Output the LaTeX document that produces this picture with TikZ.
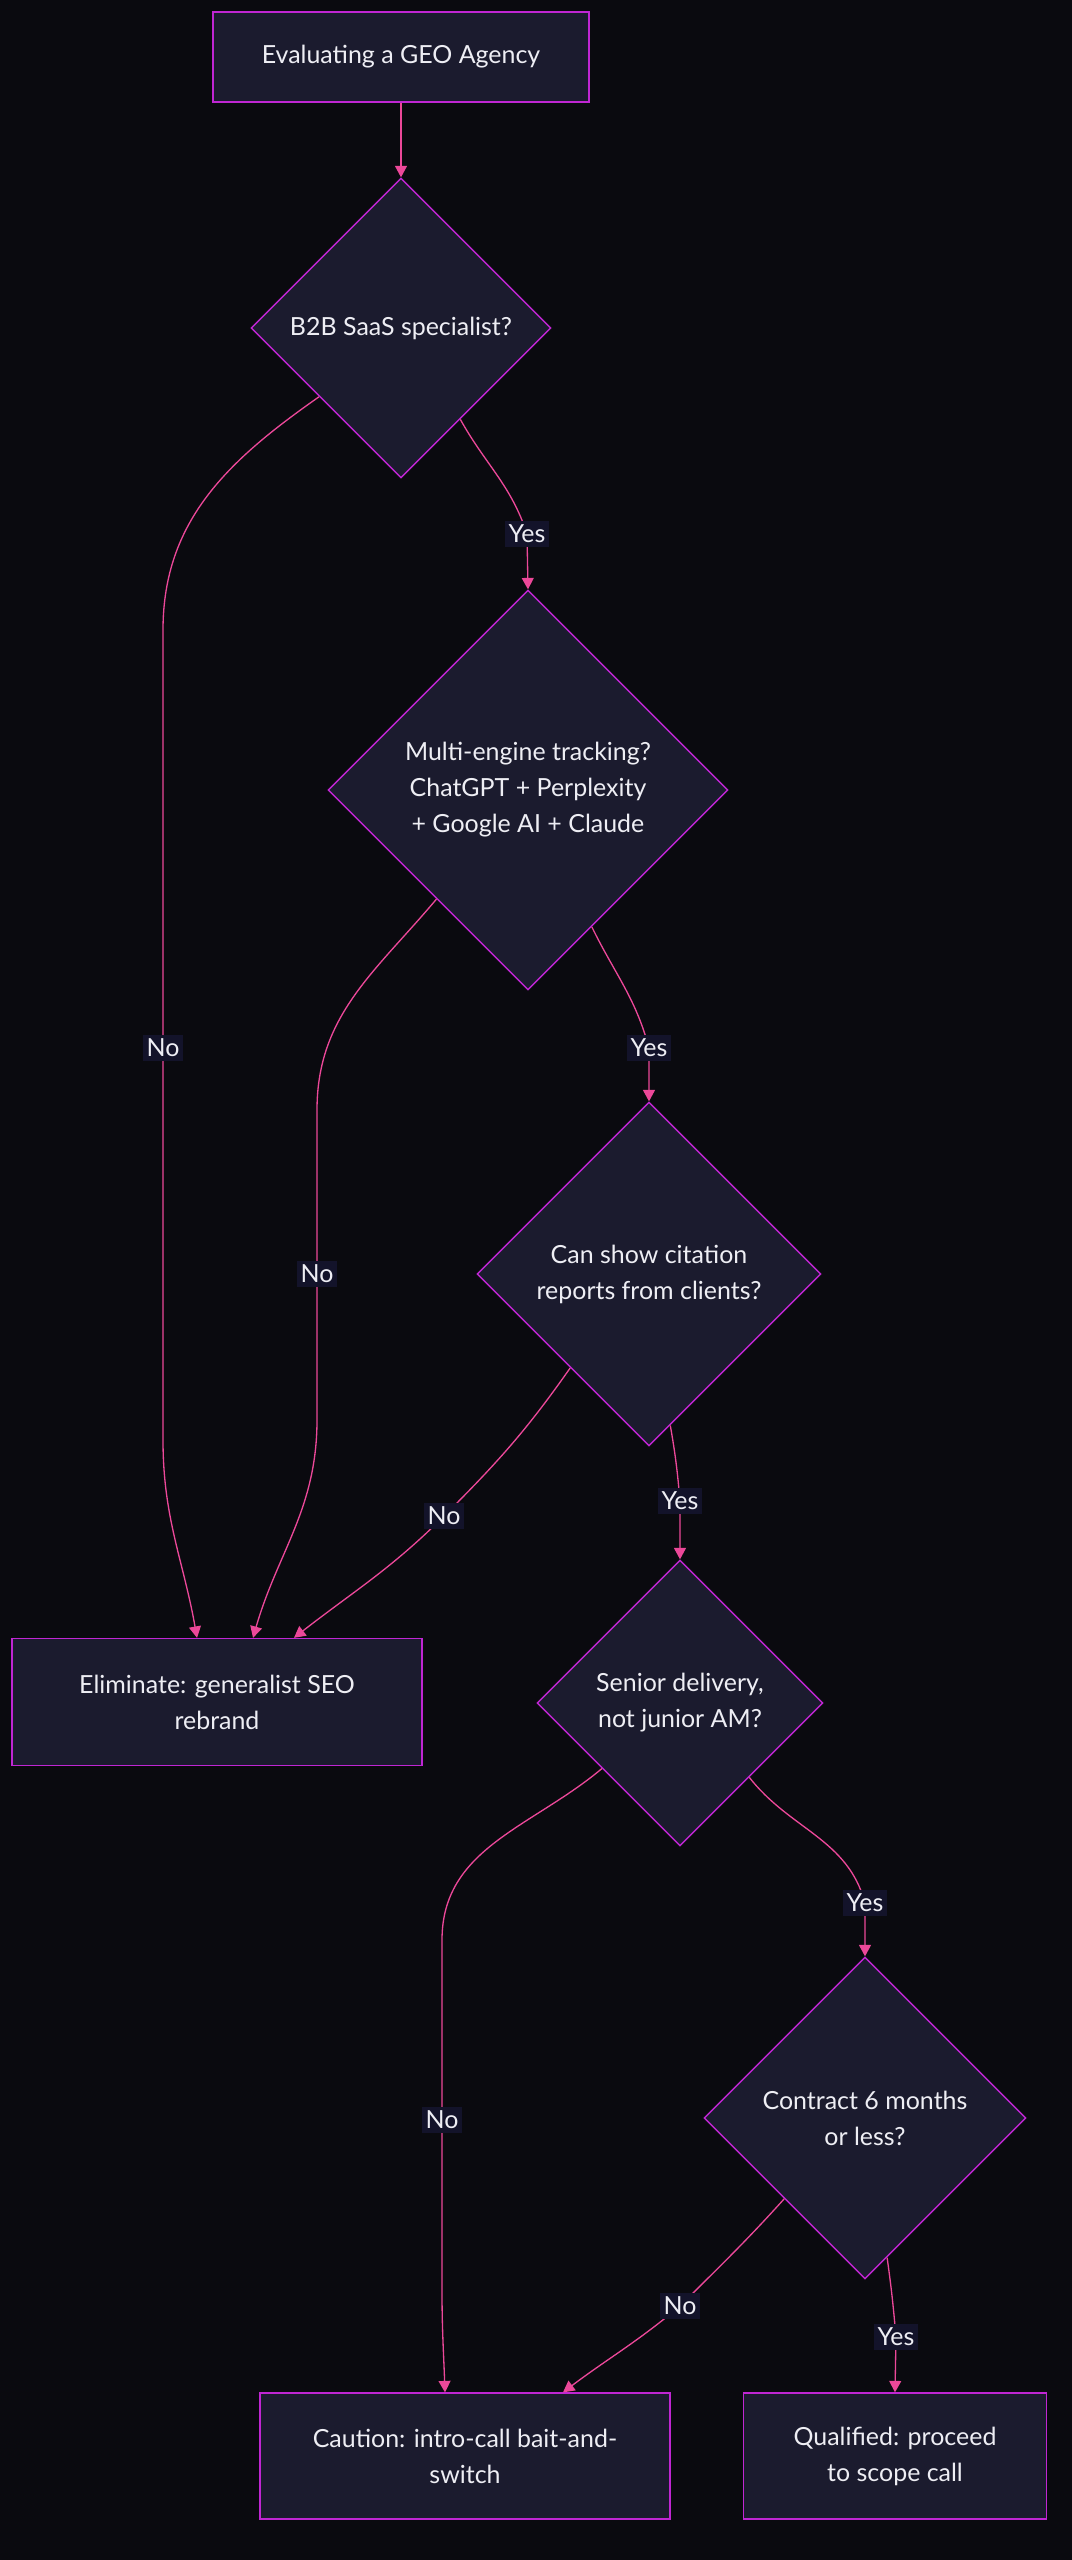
\documentclass[tikz,border=0pt]{standalone}
\usepackage{fontspec}
\setmainfont{Lato}
\usepackage{tikz}
\usetikzlibrary{shapes.geometric,arrows.meta,calc}
\usepackage{xcolor}
\definecolor{geobg}{HTML}{0A0A0F}
\definecolor{geofill}{HTML}{1B1B2E}
\definecolor{geoborder}{HTML}{C026D3}
\definecolor{geoedge}{HTML}{EC4899}
\definecolor{geotext}{HTML}{EEEEF4}
\definecolor{geolabel}{HTML}{13132A}
\tikzstyle{arrow} = [line width=0.75pt,-{Triangle[length=6.5pt,width=6.8pt]},color=geoedge]
\tikzstyle{process} = [rectangle, draw=geoborder, fill=geofill, line width=0.8pt, text=geotext, align=center, font=\fontsize{14.2}{20.5}\selectfont]
\tikzstyle{decision} = [diamond, draw=geoborder, fill=geofill, line width=0.8pt, inner sep=0pt, text=geotext, align=center, font=\fontsize{14.2}{20.5}\selectfont]
\tikzstyle{answer} = [fill=geolabel, text=geotext, inner sep=2pt, font=\fontsize{14.2}{17}\selectfont]

\begin{document}
\begin{tikzpicture}[x=0.02cm, y=0.02cm]
\fill[geobg] (0,0) rectangle (1072,-2560);
\useasboundingbox (0,0) rectangle (1072,-2560);

% Start and checks
\node (start) [process, minimum width=7.52cm, minimum height=1.8cm] at (401,-57) {Evaluating a GEO Agency};
\node (d1) [decision, minimum width=6cm, minimum height=6cm] at (401,-328) {B2B SaaS specialist?};
\node (d2) [decision, minimum width=8cm, minimum height=8cm] at (528,-790) {Multi-engine tracking?\\ChatGPT + Perplexity\\+ Google AI + Claude};
\node (d3) [decision, minimum width=6.88cm, minimum height=6.88cm] at (649,-1274) {Can show citation\\reports from clients?};
\node (d4) [decision, minimum width=5.72cm, minimum height=5.72cm] at (680,-1703) {Senior delivery,\\not junior AM?};
\node (d5) [decision, minimum width=6.44cm, minimum height=6.44cm] at (865,-2118) {Contract 6 months\\or less?};

% Outcomes
\node (elim) [process, minimum width=8.2cm, minimum height=2.54cm] at (217,-1702) {Eliminate: generalist SEO\\rebrand};
\node (caution) [process, minimum width=8.2cm, minimum height=2.52cm] at (465,-2456) {Caution: intro-call bait-and-\\switch};
\node (qual) [process, minimum width=6.06cm, minimum height=2.52cm] at (895,-2456) {Qualified: proceed\\to scope call};

% Connectors
\draw [arrow] (start) -- (d1);
\draw [arrow] (d1.-57) to[out=-61,in=108] (527,-534) node[answer]{Yes} -- (d2.north);
\draw [arrow] (d1.220) to[out=-145,in=90] (163,-630) -- (163,-1048) node[answer]{No} -- (163,-1440) to[out=-90,in=100] ($(elim.north)+(-20,0)$);
\draw [arrow] (d2.-65) to[out=-64,in=105] (649,-1048) node[answer]{Yes} -- (d3.north);
\draw [arrow] (d2.230) to[out=-130,in=90] (317,-1110) -- (317,-1274) node[answer]{No} -- (317,-1420) to[out=-90,in=74] ($(elim.north)+(36,0)$);
\draw [arrow] (d3.-82) to[out=-80,in=95] (680,-1501) node[answer]{Yes} -- (d4.north);
\draw [arrow] (d3.230) to[out=-125,in=45] (444,-1516) node[answer]{No} to[out=-135,in=38] ($(elim.north)+(77,0)$);
\draw [arrow] (d4.-47) to[out=-52,in=105] (865,-1903) node[answer]{Yes} -- (d5.north);
\draw [arrow] (d4.220) to[out=-140,in=90] (442,-1940) -- (442,-2120) node[answer]{No} -- (442,-2290) to[out=-90,in=92] ($(caution.north)+(-20,0)$);
\draw [arrow] (d5.-81) to[out=-82,in=95] (896,-2337) node[answer]{Yes} -- (qual.north);
\draw [arrow] (d5.225) to[out=-132,in=45] (680,-2306) node[answer]{No} to[out=-140,in=37] ($(caution.north)+(98,0)$);
\end{tikzpicture}
\end{document}
